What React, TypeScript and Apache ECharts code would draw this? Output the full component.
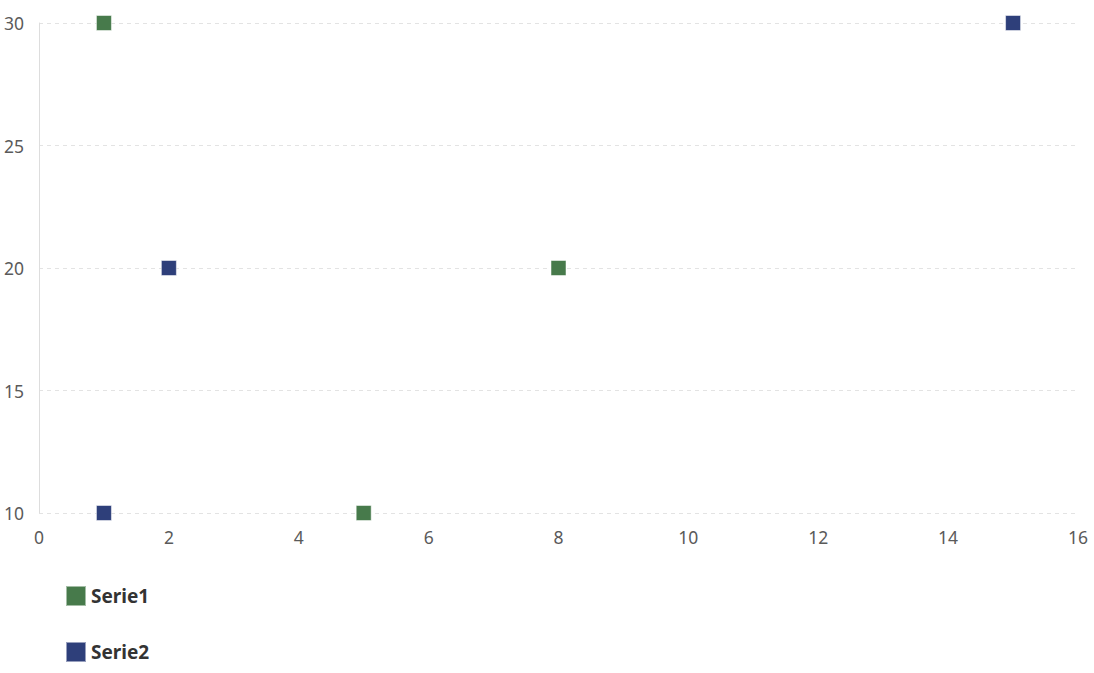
import React, { useEffect, useRef } from "react";
import * as echarts from "echarts";

const serie1: [number, number][] = [
  [1, 30],
  [8, 20],
  [5, 10],
];
const serie2: [number, number][] = [
  [15, 30],
  [2, 20],
  [1, 10],
];
const seriesNames = ["Serie1", "Serie2"];
const colors = ["#477a4b", "#2e3f7a"];

export default function App() {
  const ref = useRef<HTMLDivElement>(null);
  useEffect(() => {
    if (!ref.current) return;
    const chart = echarts.init(ref.current, null, { renderer: "svg" });
    chart.setOption({
      animation: false,
      textStyle: { fontFamily: "'Noto Sans', 'Open Sans', sans-serif" },
      grid: { left: 39, right: 16, top: 23, bottom: 160, containLabel: false },
      legend: {
        orient: "vertical",
        left: 65,
        top: 585,
        padding: 0,
        height: 88,
        itemWidth: 20,
        itemHeight: 20,
        itemGap: 34,
        icon: "rect",
        textStyle: { fontSize: 19, fontWeight: "bold", color: "#333" },
        data: seriesNames,
      },
      xAxis: {
        type: "value",
        min: 0,
        max: 16,
        interval: 2,
        axisLine: { show: false },
        axisTick: { show: false },
        splitLine: { show: false },
        axisLabel: { fontSize: 17.5, color: "#5a5a5a", margin: 15 },
      },
      yAxis: {
        type: "value",
        min: 10,
        max: 30,
        interval: 5,
        axisLine: { show: true, lineStyle: { color: "#ddd" } },
        axisTick: { show: false },
        splitLine: { show: true, lineStyle: { type: [4, 4], color: "#e3e3e3" } },
        axisLabel: { fontSize: 17.5, color: "#5a5a5a", margin: 15 },
      },
      series: [
        {
          name: seriesNames[0],
          type: "scatter",
          symbol: "rect",
          symbolSize: 15,
          data: serie1,
          itemStyle: { color: colors[0], opacity: 1, borderColor: "rgba(255,255,255,0.5)", borderWidth: 1 },
        },
        {
          name: seriesNames[1],
          type: "scatter",
          symbol: "rect",
          symbolSize: 15,
          data: serie2,
          itemStyle: { color: colors[1], opacity: 1, borderColor: "rgba(255,255,255,0.5)", borderWidth: 1 },
        },
      ],
    });
    return () => chart.dispose();
  }, []);
  return <div ref={ref} style={{ width: 1094, height: 673, position: "absolute", left: 0, top: 0 }} />;
}
